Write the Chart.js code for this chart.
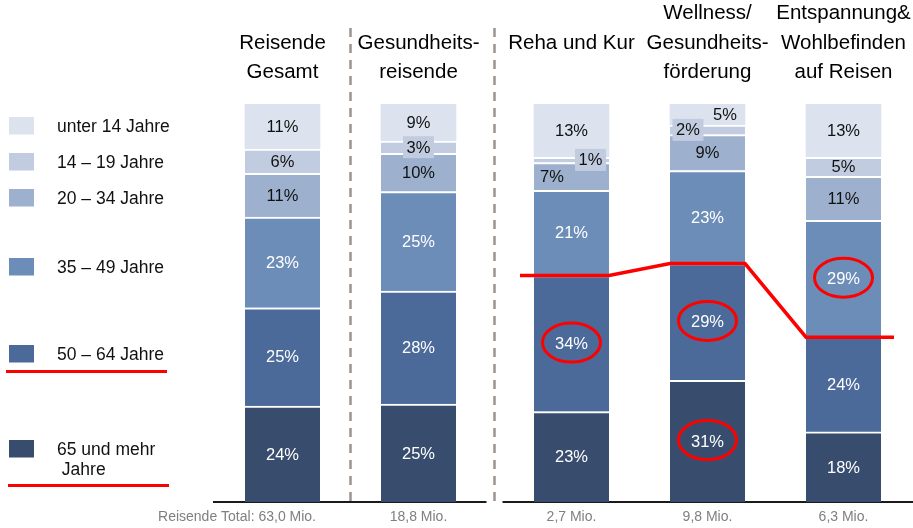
<!DOCTYPE html>
<html><head><meta charset="utf-8">
<script src="https://cdn.jsdelivr.net/npm/chart.js@4"></script>
<style>html,body{margin:0;padding:0;background:#fff;overflow:hidden}</style>
</head><body>
<canvas id="c" width="913" height="528"></canvas>
<script>
// ---- data ----
const categories = [
  ["Reisende", "Gesamt"],
  ["Gesundheits-", "reisende"],
  ["Reha und Kur", ""],
  ["Wellness/", "Gesundheits-", "förderung"],
  ["Entspannung&", "Wohlbefinden", "auf Reisen"]
];
const totals = ["Reisende Total: 63,0 Mio.", "18,8 Mio.", "2,7 Mio.", "9,8 Mio.", "6,3 Mio."];
const ageGroups = [
  ["65 und mehr", " Jahre"],
  ["50 – 64 Jahre"],
  ["35 – 49 Jahre"],
  ["20 – 34 Jahre"],
  ["14 – 19 Jahre"],
  ["unter 14 Jahre"]
];
const age65plus  = [24.1, 24.6, 22.7, 30.6, 17.6];
const age50to64  = [24.7, 28.4, 34.2, 29.3, 23.8];
const age35to49  = [22.8, 25.0, 21.4, 23.4, 29.4];
const age20to34  = [11.0,  9.6,  7.0,  9.0, 11.0];
const age14to19  = [ 6.1,  3.1,  1.3,  2.4,  4.8];
const ageUnder14 = [11.3,  9.3, 13.4,  5.3, 13.4];
// circled values: [age group index, category index]
const circled = [[1, 2], [1, 3], [0, 3], [2, 4]];

// ---- styling / layout ----
const FONT = "'Liberation Sans', Arial, sans-serif";
const colors = ['#384d6e', '#4b6a99', '#6d8db9', '#9db0cd', '#c2cce0', '#dce3ee'];
const textColors = ['#fff', '#fff', '#fff', '#111', '#111', '#111'];
const seriesValues = [age65plus, age50to64, age35to49, age20to34, age14to19, ageUnder14];
const groupGap = 0.125;
const xPos = categories.map((c, i) => i + (i >= 2 ? groupGap : 0));
// special label placements (dataset, category) -> offset / box
const labelTweaks = {
  '4,1': {dx: 0, box: true},
  '4,2': {dx: 19, box: true},
  '3,2': {dx: -19.5},
  '4,3': {dx: -19.5, box: true},
  '5,3': {dx: 17.5}
};

const datasets = seriesValues.map((vals, d) => ({
  label: ageGroups[d].join(' ').replace('  ', ' '),
  data: vals.map((v, i) => ({x: xPos[i], y: v})),
  backgroundColor: colors[d],
  borderColor: '#ffffff',
  borderWidth: {top: d === 5 ? 0 : 2, right: 0, bottom: 0, left: 0},
  borderSkipped: false,
  barThickness: 75
}));

const overlay = {
  id: 'overlay',
  beforeDatasetsDraw(chart) {
    const ctx = chart.ctx, ca = chart.chartArea;
    const els = chart.getDatasetMeta(0).data;
    ctx.save();
    for (let i = 0; i < 2; i++) {
      const sx = Math.round((els[i].x + els[i + 1].x) / 2) - 0.5;
      if (i === 1) { ctx.fillStyle = '#fff'; ctx.fillRect(sx - 8, ca.bottom - 3, 16, 6); }
      ctx.strokeStyle = '#a0938d'; ctx.lineWidth = 2.5; ctx.setLineDash([9, 7]);
      ctx.beginPath(); ctx.moveTo(sx, 28); ctx.lineTo(sx, ca.bottom + 2); ctx.stroke();
    }
    ctx.restore();
  },
  afterDatasetsDraw(chart) {
    const ctx = chart.ctx;
    ctx.save();
    // value labels
    ctx.font = '16.5px ' + FONT; ctx.textAlign = 'center'; ctx.textBaseline = 'middle';
    seriesValues.forEach((vals, d) => {
      const meta = chart.getDatasetMeta(d);
      vals.forEach((v, i) => {
        const el = meta.data[i];
        const t = labelTweaks[d + ',' + i] || {dx: 0};
        const cx = el.x + t.dx, cy = (el.y + el.base) / 2;
        if (t.box) { ctx.fillStyle = colors[d]; ctx.fillRect(cx - 15.5, cy - 11, 31, 22); }
        ctx.fillStyle = textColors[d];
        ctx.fillText(Math.round(v) + '%', cx, cy + 1);
      });
    });
    // circles
    ctx.strokeStyle = '#ff0000'; ctx.lineWidth = 3;
    circled.forEach(([d, i]) => {
      const el = chart.getDatasetMeta(d).data[i];
      const cy = (el.y + el.base) / 2;
      ctx.beginPath(); ctx.ellipse(el.x, cy - 1, 29, 19.5, 0, 0, Math.PI * 2); ctx.stroke();
    });
    // red line along the top of the 50–64 segment for the last three bars
    const m = chart.getDatasetMeta(1).data;
    ctx.lineWidth = 3.5; ctx.lineJoin = 'miter';
    ctx.beginPath();
    for (let i = 2; i < 5; i++) {
      const el = m[i], hw = el.width / 2;
      const l = el.x - hw - (i === 2 ? 14 : 0), r = el.x + hw + (i === 4 ? 13 : 0);
      if (i === 2) ctx.moveTo(l, el.y); else ctx.lineTo(l, el.y);
      ctx.lineTo(r, el.y);
    }
    ctx.stroke();
    // totals under bars
    ctx.font = '14px ' + FONT; ctx.fillStyle = '#7f7f7f'; ctx.textBaseline = 'middle';
    const m0 = chart.getDatasetMeta(0).data;
    totals.forEach((t, i) => {
      const el = m0[i];
      if (i === 0) { ctx.textAlign = 'right'; ctx.fillText(t, el.x + el.width / 2 - 4, 517); }
      else { ctx.textAlign = 'center'; ctx.fillText(t, el.x, 517); }
    });
    ctx.restore();
  },
  afterDraw(chart) {
    const ctx = chart.ctx;
    ctx.save();
    // legend (top to bottom: youngest first)
    const rectTops = [440, 345, 258, 189, 153, 117];
    ctx.font = '17.5px ' + FONT; ctx.textAlign = 'left'; ctx.textBaseline = 'middle';
    ageGroups.forEach((lines, d) => {
      const top = rectTops[d];
      ctx.fillStyle = colors[d];
      ctx.fillRect(9, top, 25, 17.5);
      ctx.fillStyle = '#111';
      lines.forEach((ln, k) => ctx.fillText(ln, 57, top + 10.5 + k * 20));
    });
    // red underlines
    ctx.strokeStyle = '#ff0000'; ctx.lineWidth = 3;
    ctx.beginPath(); ctx.moveTo(6, 371.5); ctx.lineTo(167, 371.5); ctx.stroke();
    ctx.beginPath(); ctx.moveTo(8, 485.5); ctx.lineTo(169, 485.5); ctx.stroke();
    ctx.restore();
  }
};

const unit = 136, firstCenter = 282.5;
const xMin = (214 - firstCenter) / unit, xMax = (913 - firstCenter) / unit;
const setTicks = axis => { axis.ticks = xPos.map(v => ({value: v})); };
const noPad = h => s => { s.height = h; s.paddingLeft = 0; s.paddingRight = 0; };

new Chart(document.getElementById('c'), {
  type: 'bar',
  data: {datasets},
  options: {
    responsive: false,
    animation: false,
    devicePixelRatio: 1,
    layout: {padding: {left: 214, right: 0, top: 0, bottom: 0}},
    plugins: {legend: {display: false}, tooltip: {enabled: false}},
    scales: {
      x: {
        type: 'linear', position: 'bottom', stacked: true, offset: false,
        min: xMin, max: xMax,
        afterBuildTicks: setTicks,
        afterFit: noPad(26),
        grid: {display: false, drawTicks: false},
        ticks: {display: false},
        border: {display: true, color: '#1a1a1a', width: 2}
      },
      xTop: {
        type: 'linear', position: 'top', offset: false,
        min: xMin, max: xMax,
        afterBuildTicks: setTicks,
        afterFit: noPad(104),
        grid: {display: false, drawTicks: false},
        border: {display: false},
        ticks: {
          autoSkip: false, maxRotation: 0, minRotation: 0, padding: 17,
          color: '#000',
          font: {family: FONT, size: 20.5, lineHeight: 1.43},
          callback: (v, i) => categories[i]
        }
      },
      y: {
        stacked: true, min: 0, max: 100, display: false
      }
    }
  },
  plugins: [overlay]
});
</script>
</body></html>
